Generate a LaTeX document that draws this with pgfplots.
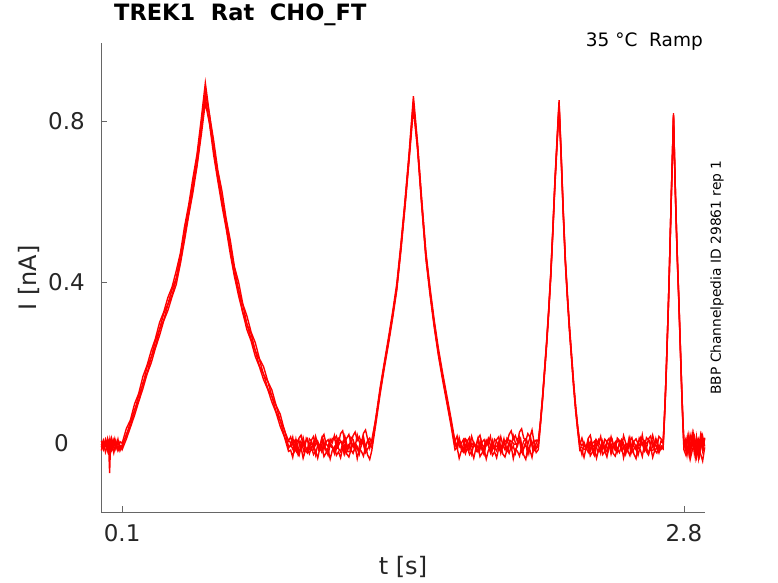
\documentclass[border=0pt]{standalone}
\usepackage{fontspec}
\setmainfont{DejaVu Sans}
\usepackage{pgfplots}
\pgfplotsset{compat=1.18}
\usepackage{pgfplotstable}
\definecolor{axgray}{RGB}{102,102,102}
\definecolor{txt}{RGB}{38,38,38}
\pgfplotstableread{
t a b c d
0.00 0.006 -0.010 -0.002 -0.018
0.01 -0.012 0.008 -0.016 0.004
0.02 0.010 -0.006 0.004 -0.022
0.03 -0.006 0.012 -0.018 -0.004
0.035 0.004 -0.004 0.002 -0.014
0.04 0.008 -0.074 -0.010 0.006
0.045 -0.010 0.006 0.006 -0.020
0.05 0.012 -0.014 -0.012 -0.002
0.06 -0.008 0.006 0.008 -0.024
0.07 0.006 -0.012 -0.014 0.002
0.08 -0.016 0.010 0.004 -0.018
0.09 0.004 -0.018 -0.010 -0.006
0.10 0.000 -0.004 -0.010 -0.016
0.12 0.036 0.018 0.022 0.010
0.14 0.058 0.054 0.042 0.040
0.16 0.098 0.080 0.084 0.070
0.18 0.124 0.120 0.106 0.104
0.20 0.166 0.146 0.150 0.136
0.22 0.194 0.190 0.174 0.172
0.24 0.230 0.214 0.214 0.200
0.26 0.260 0.254 0.240 0.236
0.28 0.300 0.284 0.282 0.268
0.30 0.326 0.322 0.306 0.304
0.32 0.362 0.346 0.344 0.330
0.34 0.388 0.382 0.368 0.364
0.36 0.428 0.410 0.408 0.394
0.38 0.472 0.466 0.450 0.446
0.40 0.538 0.520 0.518 0.504
0.42 0.592 0.586 0.570 0.566
0.44 0.658 0.640 0.636 0.622
0.46 0.718 0.712 0.692 0.688
0.48 0.804 0.786 0.780 0.764
0.50 0.895 0.872 0.858 0.846
0.52 0.816 0.816 0.796 0.794
0.54 0.752 0.730 0.730 0.716
0.56 0.678 0.672 0.658 0.652
0.58 0.626 0.606 0.604 0.590
0.60 0.558 0.552 0.538 0.534
0.62 0.504 0.486 0.484 0.470
0.64 0.438 0.434 0.418 0.414
0.66 0.400 0.380 0.380 0.366
0.68 0.346 0.344 0.326 0.324
0.70 0.316 0.296 0.296 0.282
0.72 0.276 0.272 0.258 0.254
0.74 0.250 0.230 0.230 0.216
0.76 0.210 0.208 0.192 0.190
0.78 0.190 0.170 0.172 0.158
0.80 0.154 0.154 0.136 0.134
0.82 0.132 0.116 0.116 0.102
0.84 0.094 0.094 0.078 0.076
0.86 0.072 0.056 0.056 0.042
0.88 0.032 0.034 0.018 0.016
0.90 0.006 -0.008 -0.012 -0.020
0.91 0.016 -0.008 -0.003 -0.017
0.92 -0.002 0.001 0.015 -0.035
0.93 0.007 -0.020 -0.016 -0.005
0.94 -0.011 -0.011 0.008 -0.023
0.95 0.013 -0.026 0.002 -0.031
0.96 0.020 -0.002 -0.010 -0.010
0.97 -0.007 0.006 0.014 -0.037
0.98 0.002 -0.017 -0.007 -0.019
0.99 0.011 -0.024 -0.018 -0.013
1.00 -0.013 -0.006 0.011 -0.026
1.01 0.008 -0.015 0.005 -0.010
1.02 0.017 0.003 -0.013 -0.028
1.03 -0.004 -0.028 0.017 -0.019
1.04 0.005 -0.004 -0.001 -0.037
1.05 -0.010 -0.010 -0.009 -0.013
1.06 0.014 -0.022 0.012 -0.006
1.07 0.022 0.002 -0.015 -0.033
1.08 -0.001 -0.019 0.003 -0.024
1.09 -0.008 -0.030 0.009 -0.015
1.10 0.010 -0.001 -0.004 -0.039
1.11 0.001 -0.007 0.012 -0.018
1.12 0.019 -0.025 0.009 -0.009
1.13 -0.012 0.005 0.018 -0.030
1.14 0.012 -0.013 0.000 -0.021
1.15 0.006 -0.021 0.024 -0.036
1.16 -0.006 0.000 0.031 -0.012
1.17 0.018 -0.027 0.004 -0.004
1.18 -0.003 -0.009 0.013 -0.027
1.19 -0.014 -0.003 0.022 -0.034
1.20 0.015 -0.016 -0.002 -0.016
1.21 0.009 0.000 0.019 -0.025
1.22 -0.009 -0.018 0.028 -0.007
1.23 0.021 -0.009 0.007 -0.038
1.24 0.003 -0.027 0.016 -0.014
1.25 -0.005 -0.003 0.001 -0.020
1.26 0.016 0.004 0.025 -0.032
1.27 -0.011 -0.023 0.033 -0.008
1.28 0.007 -0.014 0.010 -0.029
1.29 0.013 -0.005 -0.012 -0.040
1.30 0.000 -0.010 0.008 -0.018
1.32 0.066 0.058 0.062 0.050
1.34 0.138 0.128 0.132 0.122
1.36 0.200 0.192 0.196 0.186
1.38 0.262 0.252 0.254 0.246
1.40 0.326 0.316 0.318 0.310
1.42 0.396 0.386 0.388 0.380
1.44 0.496 0.486 0.488 0.478
1.46 0.606 0.596 0.598 0.588
1.48 0.726 0.716 0.716 0.706
1.50 0.862 0.850 0.840 0.832
1.52 0.746 0.738 0.734 0.728
1.54 0.606 0.598 0.594 0.588
1.56 0.476 0.468 0.464 0.458
1.58 0.386 0.378 0.374 0.368
1.60 0.306 0.298 0.294 0.288
1.62 0.236 0.228 0.224 0.218
1.64 0.176 0.168 0.164 0.158
1.66 0.120 0.112 0.108 0.102
1.68 0.064 0.058 0.052 0.046
1.70 0.004 -0.008 0.002 -0.016
1.71 0.018 0.000 -0.010 -0.010
1.72 -0.009 0.008 0.014 -0.037
1.73 0.000 -0.015 -0.007 -0.019
1.74 0.009 -0.022 -0.018 -0.013
1.75 -0.015 -0.004 0.011 -0.026
1.76 0.006 -0.013 0.005 -0.010
1.77 0.015 0.005 -0.013 -0.028
1.78 -0.006 -0.026 0.017 -0.019
1.79 0.003 -0.002 -0.001 -0.037
1.80 -0.012 -0.008 -0.009 -0.013
1.81 0.012 -0.020 0.012 -0.006
1.82 0.020 0.004 -0.015 -0.033
1.83 -0.003 -0.017 0.003 -0.024
1.84 -0.010 -0.028 0.009 -0.015
1.85 0.008 0.001 -0.004 -0.039
1.86 -0.001 -0.005 0.012 -0.018
1.87 0.017 -0.023 -0.006 -0.009
1.88 -0.014 0.007 0.003 -0.030
1.89 0.010 -0.011 -0.015 -0.021
1.90 0.004 -0.019 0.009 -0.036
1.91 -0.008 0.002 0.016 -0.012
1.92 0.016 -0.025 -0.011 -0.004
1.93 -0.005 -0.007 -0.002 -0.027
1.94 -0.016 -0.001 0.007 -0.034
1.95 0.013 -0.014 0.001 -0.016
1.96 0.007 0.002 0.022 -0.025
1.97 -0.011 -0.016 0.031 -0.007
1.98 0.019 -0.007 0.010 -0.038
1.99 0.001 -0.025 0.019 -0.014
2.00 -0.007 -0.001 0.004 -0.020
2.01 0.014 0.006 0.028 -0.032
2.02 -0.013 -0.021 0.036 -0.008
2.03 0.005 -0.012 0.013 -0.029
2.04 0.011 -0.003 0.006 -0.040
2.05 -0.002 -0.027 0.024 -0.011
2.06 0.014 -0.006 0.015 -0.017
2.07 -0.004 0.003 0.033 -0.035
2.08 0.005 -0.018 0.002 -0.005
2.09 -0.013 -0.009 0.008 -0.023
2.10 0.000 -0.010 0.006 -0.016
2.11 0.052 0.046 0.050 0.042
2.12 0.112 0.106 0.110 0.102
2.13 0.182 0.176 0.178 0.170
2.14 0.252 0.246 0.248 0.240
2.15 0.332 0.326 0.328 0.320
2.16 0.422 0.416 0.418 0.410
2.17 0.532 0.526 0.528 0.520
2.18 0.652 0.646 0.646 0.638
2.19 0.752 0.746 0.744 0.736
2.20 0.852 0.846 0.840 0.834
2.21 0.722 0.716 0.714 0.708
2.22 0.582 0.576 0.574 0.568
2.23 0.462 0.456 0.454 0.448
2.24 0.372 0.366 0.364 0.358
2.25 0.292 0.286 0.284 0.278
2.26 0.222 0.216 0.214 0.208
2.27 0.152 0.146 0.144 0.138
2.28 0.092 0.086 0.084 0.078
2.29 0.042 0.036 0.034 0.028
2.30 0.002 -0.008 -0.004 -0.018
2.31 -0.006 -0.028 0.013 -0.017
2.32 0.003 -0.004 -0.005 -0.035
2.33 -0.012 -0.010 -0.013 -0.011
2.34 0.012 -0.022 0.008 -0.004
2.35 0.020 0.002 -0.019 -0.031
2.36 -0.003 -0.019 -0.001 -0.022
2.37 -0.010 -0.030 0.005 -0.013
2.38 0.008 -0.001 -0.008 -0.037
2.39 -0.001 -0.007 0.008 -0.016
2.40 0.017 -0.025 -0.010 -0.007
2.41 -0.014 0.005 -0.001 -0.028
2.42 0.010 -0.013 -0.019 -0.019
2.43 0.004 -0.021 0.005 -0.034
2.44 -0.008 0.000 0.012 -0.010
2.45 0.016 -0.027 -0.015 -0.002
2.46 -0.005 -0.009 -0.006 -0.025
2.47 -0.016 -0.003 0.003 -0.032
2.48 0.013 -0.016 -0.021 -0.014
2.49 0.007 0.000 0.000 -0.023
2.50 -0.011 -0.018 0.009 -0.005
2.51 0.019 -0.009 -0.012 -0.036
2.52 0.001 -0.027 -0.003 -0.012
2.53 -0.007 -0.003 -0.018 -0.018
2.54 0.014 0.004 0.006 -0.030
2.55 -0.013 -0.023 0.014 -0.006
2.56 0.005 -0.014 -0.009 -0.027
2.57 0.011 -0.005 -0.016 -0.038
2.58 -0.002 -0.029 0.002 -0.009
2.59 0.014 -0.008 -0.007 -0.015
2.60 -0.004 0.001 0.021 -0.033
2.61 0.005 -0.020 -0.010 -0.003
2.62 -0.013 -0.011 0.014 -0.021
2.63 0.011 -0.026 0.008 -0.029
2.64 0.018 -0.002 -0.004 -0.008
2.65 -0.009 0.006 0.020 -0.035
2.66 0.000 -0.017 -0.001 -0.017
2.67 0.009 -0.024 -0.012 -0.011
2.68 -0.015 -0.006 0.017 -0.024
2.69 0.006 -0.015 0.011 -0.008
2.700 0.000 -0.008 0.004 -0.014
2.705 0.050 0.046 0.048 0.040
2.710 0.110 0.106 0.108 0.100
2.715 0.180 0.176 0.178 0.170
2.720 0.260 0.256 0.258 0.250
2.725 0.340 0.336 0.338 0.330
2.730 0.430 0.426 0.428 0.420
2.735 0.530 0.526 0.528 0.520
2.740 0.630 0.626 0.626 0.618
2.745 0.720 0.716 0.716 0.708
2.750 0.820 0.816 0.812 0.806
2.755 0.710 0.706 0.704 0.698
2.760 0.610 0.606 0.604 0.598
2.765 0.520 0.516 0.514 0.508
2.770 0.440 0.436 0.434 0.428
2.775 0.370 0.366 0.364 0.358
2.780 0.290 0.286 0.284 0.278
2.785 0.210 0.206 0.204 0.198
2.790 0.130 0.126 0.124 0.118
2.795 0.060 0.056 0.054 0.048
2.800 0.000 -0.006 0.004 -0.016
2.81 -0.020 0.012 -0.008 -0.030
2.82 0.018 -0.024 0.020 -0.012
2.83 -0.010 0.020 -0.032 -0.040
2.84 0.024 -0.006 0.010 -0.018
2.85 -0.024 0.016 -0.018 -0.002
2.86 0.006 -0.030 0.016 -0.036
2.87 -0.012 0.008 -0.036 -0.014
2.88 0.020 -0.016 0.004 -0.026
2.89 -0.018 0.018 -0.014 -0.044
2.90 0.012 -0.008 0.014 -0.010
}\tracedata

\pgfplotstableread{
t e
0.005 -0.001
0.015 -0.003
0.025 0.003
0.035 0.007
0.045 -0.018
0.055 -0.016
0.065 0.011
0.075 -0.010
0.085 -0.017
0.095 -0.005
nan nan
0.905 0.006
0.915 -0.008
0.925 -0.020
0.935 0.009
0.945 -0.024
0.955 0.006
0.965 -0.003
0.975 -0.023
0.985 0.012
0.995 0.002
1.005 -0.001
1.015 -0.003
1.025 0.003
1.035 0.007
1.045 -0.018
1.055 -0.016
1.065 0.011
1.075 -0.010
1.085 -0.017
1.095 -0.005
1.105 -0.009
1.115 -0.013
1.125 -0.015
1.135 -0.012
1.145 0.001
1.155 0.004
1.165 -0.022
1.175 0.005
1.185 -0.021
1.195 -0.021
1.205 -0.002
1.215 -0.011
1.225 -0.004
1.235 -0.019
1.245 0.003
1.255 0.010
1.265 -0.014
1.275 0.000
1.285 0.008
1.295 -0.007
nan nan
1.705 -0.007
1.715 0.008
1.725 0.000
1.735 -0.014
1.745 0.010
1.755 0.003
1.765 -0.019
1.775 -0.004
1.785 -0.011
1.795 -0.002
1.805 -0.021
1.815 -0.021
1.825 0.005
1.835 -0.022
1.845 0.004
1.855 0.001
1.865 -0.012
1.875 -0.015
1.885 -0.013
1.895 -0.009
1.905 -0.005
1.915 -0.017
1.925 -0.010
1.935 0.011
1.945 -0.016
1.955 -0.018
1.965 0.007
1.975 0.003
1.985 -0.003
1.995 -0.001
2.005 0.002
2.015 0.012
2.025 -0.023
2.035 -0.003
2.045 0.006
2.055 -0.024
2.065 0.009
2.075 -0.020
2.085 -0.008
2.095 0.006
nan nan
2.305 -0.009
2.315 -0.013
2.325 -0.015
2.335 -0.012
2.345 0.001
2.355 0.004
2.365 -0.022
2.375 0.005
2.385 -0.021
2.395 -0.021
2.405 -0.002
2.415 -0.011
2.425 -0.004
2.435 -0.019
2.445 0.003
2.455 0.010
2.465 -0.014
2.475 0.000
2.485 0.008
2.495 -0.007
2.505 0.006
2.515 -0.008
2.525 -0.020
2.535 0.009
2.545 -0.024
2.555 0.006
2.565 -0.003
2.575 -0.023
2.585 0.012
2.595 0.002
2.605 -0.001
2.615 -0.003
2.625 0.003
2.635 0.007
2.645 -0.018
2.655 -0.016
2.665 0.011
2.675 -0.010
2.685 -0.017
2.695 -0.005
nan nan
2.805 0.010
2.815 -0.028
2.825 0.014
2.835 -0.012
2.845 0.022
2.855 -0.034
2.865 0.004
2.875 -0.030
2.885 0.016
2.895 -0.020
}\extradata

\begin{document}
\begin{tikzpicture}[x=1bp,y=1bp]
\path[use as bounding box] (0,0) rectangle (778,583);
\begin{axis}[
  at={(101.3bp,70.7bp)}, anchor=south west,
  width=603.4bp, height=469bp, scale only axis,
  xmin=0, xmax=2.9, ymin=-0.1714, ymax=0.9935,
  axis lines*=left,
  axis line style={-, draw=axgray, line width=0.7bp},
  every outer x axis line/.append style={-},
  every outer y axis line/.append style={-},
  xtick={0.1,2.8}, ytick={0,0.4,0.8},
  yticklabels={0\kern16bp, 0.4, 0.8},
  xtick pos=left, ytick pos=left,
  tick align=inside, major tick length=6bp,
  tick style={draw=axgray, line width=0.7bp},
  /pgf/number format/assume math mode=true,
  tick label style={font=\fontsize{23bp}{27bp}\selectfont, text=txt},
  xticklabel style={anchor=north, yshift=-9bp},
  yticklabel style={anchor=east, xshift=-13bp},
  xlabel={t [s]}, ylabel={I [nA]},
  label style={font=\fontsize{24bp}{28bp}\selectfont, text=txt},
  xlabel style={at={(axis description cs:0.5,-0.1166)}, anchor=center},
  ylabel style={at={(axis description cs:-0.1198,0.5)}, anchor=center},
  title={TREK1\ \ Rat\ \ CHO\_FT},
  title style={font=\fontsize{22.5bp}{27bp}\selectfont\bfseries, anchor=base west, inner sep=0pt, at={(axis description cs:0,1)}, xshift=12.7bp, yshift=17.3bp},
  clip=false,
  unbounded coords=jump,
]
\addplot[red, line width=1.4bp] table[x=t, y=a] {\tracedata};
\addplot[red, line width=1.4bp] table[x=t, y=b] {\tracedata};
\addplot[red, line width=1.4bp] table[x=t, y=c] {\tracedata};
\addplot[red, line width=1.4bp] table[x=t, y=d] {\tracedata};
\addplot[red, line width=1.4bp] table[x=t, y=e] {\extradata};
\end{axis}
\node[anchor=base east, inner sep=0pt, font=\fontsize{18.5bp}{22bp}\selectfont] at (703,536) {35 °C\ \ Ramp};
\node[rotate=90, inner sep=0pt, font=\fontsize{13.8bp}{16bp}\selectfont] at (717,305.5) {BBP Channelpedia ID 29861 rep 1};
\end{tikzpicture}
\end{document}
